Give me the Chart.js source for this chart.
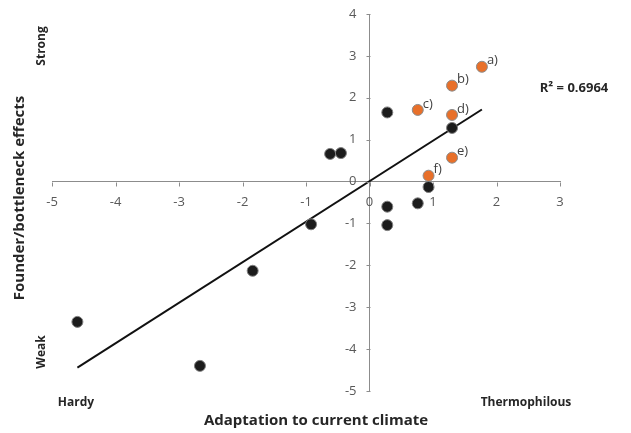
<!DOCTYPE html>
<html>
<head>
<meta charset="utf-8">
<script src="https://cdn.jsdelivr.net/npm/chart.js@4/dist/chart.umd.min.js"></script>
<style>
  html, body { margin: 0; padding: 0; background: #fff; }
  #wrap { width: 631px; height: 433px; position: relative; }
</style>
</head>
<body>
<div id="wrap"><canvas id="chart" width="631" height="433"></canvas></div>
<script>
// --- Data ---
// Black points (other species)
const blackX = [0.28, -0.62, -0.45, 1.30, 0.93, 0.28, 0.76, 0.28, -0.92, -1.84, -4.60, -2.67];
const blackY = [1.65, 0.66, 0.68, 1.28, -0.13, -0.60, -0.52, -1.04, -1.02, -2.13, -3.35, -4.40];

// Orange labelled points
const orangeX = [1.77, 1.30, 0.76, 1.30, 1.30, 0.93];
const orangeY = [2.74, 2.29, 1.71, 1.59, 0.57, 0.14];
const orangeLabels = ['a)', 'b)', 'c)', 'd)', 'e)', 'f)'];

// Linear trend line end points
const trendX = [-4.60, 1.77];
const trendY = [-4.44, 1.72];

const xTicks = [-5, -4, -3, -2, -1, 0, 1, 2, 3];
const yTicks = [-5, -4, -3, -2, -1, 0, 1, 2, 3, 4];

const FONT = '"Open Sans", Lato, sans-serif';

function zip(xs, ys) { return xs.map((x, i) => ({ x: x, y: ys[i] })); }

// axes crossing at the origin: tick marks + tick labels
const crossAxes = {
    id: 'crossAxes',
    afterDraw(chart) {
        const ctx = chart.ctx, xs = chart.scales.x, ys = chart.scales.y;
        const x0 = Math.round(xs.getPixelForValue(0)) + 0.5;
        const y0 = Math.round(ys.getPixelForValue(0)) + 0.5;
        ctx.save();
        ctx.strokeStyle = '#8c8c8c';
        ctx.lineWidth = 1;
        ctx.beginPath();
        xTicks.forEach(v => {
            const px = Math.round(xs.getPixelForValue(v)) + 0.5;
            ctx.moveTo(px, y0); ctx.lineTo(px, y0 + 4);
        });
        yTicks.forEach(v => {
            const py = Math.round(ys.getPixelForValue(v)) + 0.5;
            ctx.moveTo(x0, py); ctx.lineTo(x0 - 4, py);
        });
        ctx.stroke();

        ctx.fillStyle = '#595959';
        ctx.font = '13px ' + FONT;
        ctx.textBaseline = 'middle';
        ctx.textAlign = 'center';
        xTicks.forEach(v => ctx.fillText(String(v), xs.getPixelForValue(v), y0 + 20));
        ctx.textAlign = 'right';
        yTicks.forEach(v => ctx.fillText(String(v), x0 - 14, ys.getPixelForValue(v)));
        ctx.restore();
    }
};

// extra texts: titles, extremes, R², point labels
const textPlugin = {
    id: 'texts',
    afterDatasetsDraw(chart) {
        const ctx = chart.ctx;
        ctx.save();

        // point labels
        const meta = chart.getDatasetMeta(1);
        ctx.fillStyle = '#404040';
        ctx.font = '13px ' + FONT;
        ctx.textAlign = 'left';
        ctx.textBaseline = 'middle';
        meta.data.forEach((pt, i) => {
            ctx.fillText(orangeLabels[i], pt.x + 5, pt.y - 6);
        });

        ctx.fillStyle = '#262626';
        ctx.font = 'bold 13px ' + FONT;
        ctx.textAlign = 'center';
        ctx.fillText('R\u00b2 = 0.6964', 574, 88);

        ctx.font = 'bold 12px ' + FONT;
        ctx.fillText('Hardy', 76, 403);
        ctx.fillText('Thermophilous', 526, 403);

        ctx.font = 'bold 15px ' + FONT;
        ctx.fillText('Adaptation to current climate', 316, 421);

        function vtext(t, x, y) {
            ctx.save();
            ctx.translate(x, y);
            ctx.rotate(-Math.PI / 2);
            ctx.fillText(t, 0, 0);
            ctx.restore();
        }
        ctx.font = 'bold 12px ' + FONT;
        vtext('Strong', 42, 46);
        vtext('Weak', 42, 352);
        ctx.font = 'bold 15px ' + FONT;
        vtext('Founder/bottleneck effects', 20, 198);

        ctx.restore();
    }
};

new Chart(document.getElementById('chart'), {
    type: 'scatter',
    data: {
        datasets: [
            {
                label: 'Other',
                data: zip(blackX, blackY),
                backgroundColor: '#1c1c1c',
                borderColor: '#7f7f7f',
                borderWidth: 1,
                pointRadius: 5.5,
                clip: false
            },
            {
                label: 'Labelled',
                data: zip(orangeX, orangeY),
                backgroundColor: '#e8702a',
                borderColor: '#8c8c8c',
                borderWidth: 1,
                pointRadius: 5.5,
                clip: false
            },
            {
                label: 'Trend',
                type: 'line',
                data: zip(trendX, trendY),
                borderColor: '#111',
                borderWidth: 2,
                pointRadius: 0,
                showLine: true,
                fill: false
            }
        ]
    },
    options: {
        responsive: false,
        animation: false,
        layout: { padding: { left: 52, right: 71, top: 14, bottom: 42 } },
        plugins: {
            legend: { display: false },
            tooltip: { enabled: false }
        },
        scales: {
            x: {
                type: 'linear',
                min: -5, max: 3,
                position: { y: 0 },
                afterFit(s) { s.height = 0; s.paddingLeft = 0; s.paddingRight = 0; },
                grid: { display: false },
                border: { color: '#8c8c8c', width: 1 },
                ticks: { display: false }
            },
            y: {
                type: 'linear',
                min: -5, max: 4,
                position: { x: 0 },
                afterFit(s) { s.width = 0; s.paddingTop = 0; s.paddingBottom = 0; },
                grid: { display: false },
                border: { color: '#8c8c8c', width: 1 },
                ticks: { display: false }
            }
        }
    },
    plugins: [crossAxes, textPlugin]
});
</script>
</body>
</html>
